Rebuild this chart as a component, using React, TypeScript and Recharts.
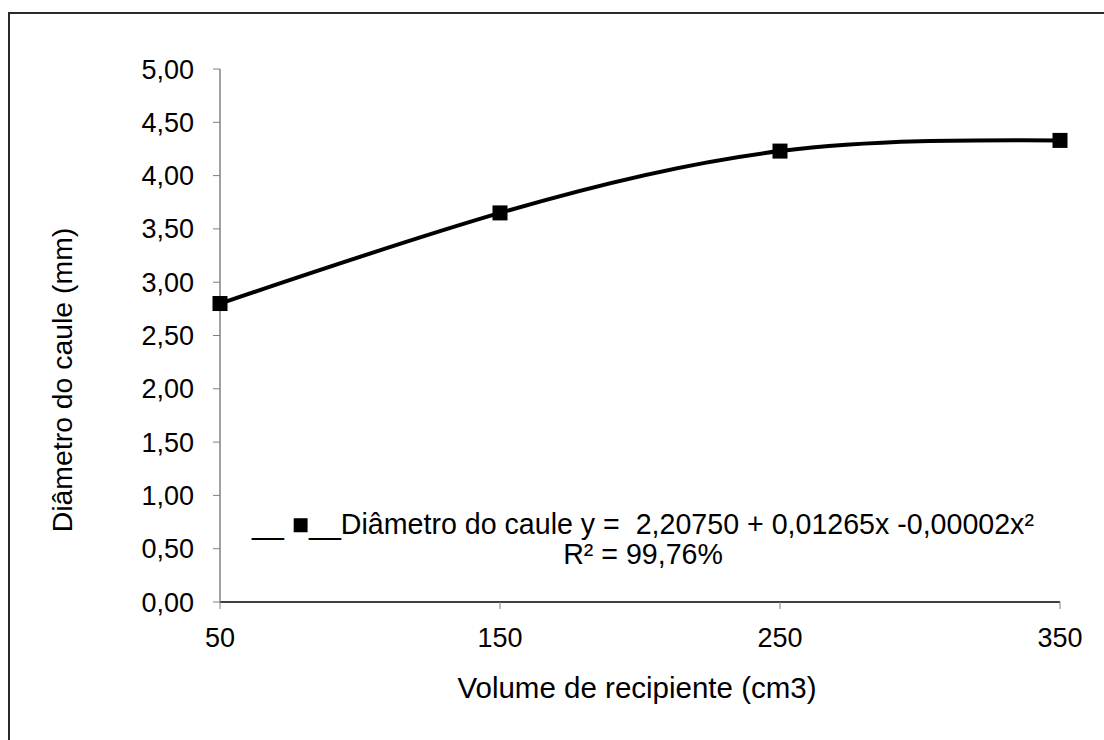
import { LineChart, Line, XAxis, YAxis } from 'recharts';

const volumes = [50, 150, 250, 350];
const diameters = [2.8, 3.65, 4.23, 4.33];
const xTicks = [50, 150, 250, 350];
const yTicks = [0, 0.5, 1, 1.5, 2, 2.5, 3, 3.5, 4, 4.5, 5];

const equation = '__ \u25A0__Diâmetro do caule y =  2,20750 + 0,01265x -0,00002x²';
const r2Text = 'R² = 99,76%';
const xTitle = 'Volume de recipiente (cm3)';
const yTitle = 'Diâmetro do caule (mm)';

const data = volumes.map((v, i) => ({ volume: v, diametro: diameters[i] }));

const font = '"Liberation Sans", Arial, sans-serif';
const tickStyle = { fill: '#000', fontSize: 27, fontFamily: font };

function SquareDot(props: any) {
  const { cx, cy, index } = props;
  return <rect key={`dot-${index}`} x={cx - 7.5} y={cy - 7.5} width={15} height={15} fill="#000" />;
}

export default function App() {
  return (
    <div
      style={{
        position: 'absolute',
        left: 0,
        top: 0,
        width: 1104,
        height: 740,
        background: '#fff',
        overflow: 'hidden',
        fontFamily: font,
        color: '#000',
      }}
    >
      <div
        style={{
          position: 'absolute',
          left: 8,
          top: 12,
          width: 1200,
          height: 800,
          border: '2px solid #2a2a2a',
        }}
      />
      <div style={{ position: 'absolute', left: 0, top: 0 }}>
        <LineChart width={1104} height={740} data={data} margin={{ top: 69, right: 44, bottom: 0, left: 0 }}>
          <XAxis
            dataKey="volume"
            type="number"
            domain={[50, 350]}
            ticks={xTicks}
            height={138}
            tickSize={7}
            tickMargin={19}
            tick={tickStyle}
            axisLine={{ stroke: '#000', strokeWidth: 1.5 }}
            tickLine={{ stroke: '#808080' }}
          />
          <YAxis
            type="number"
            domain={[0, 5]}
            ticks={yTicks}
            width={220}
            tickSize={7}
            tickMargin={19}
            tick={tickStyle}
            tickFormatter={(v: number) => v.toFixed(2).replace('.', ',')}
            axisLine={{ stroke: '#808080', strokeWidth: 1.5 }}
            tickLine={{ stroke: '#808080' }}
          />
          <Line
            type="natural"
            dataKey="diametro"
            stroke="#000"
            strokeWidth={4}
            dot={SquareDot}
            activeDot={false}
            isAnimationActive={false}
          />
        </LineChart>
      </div>
      <div
        style={{
          position: 'absolute',
          left: 143,
          width: 1000,
          top: 509,
          textAlign: 'center',
          fontSize: 28.6,
          lineHeight: '30px',
          whiteSpace: 'pre',
        }}
      >
        <div>{equation}</div>
        <div>{r2Text}</div>
      </div>
      <div
        style={{
          position: 'absolute',
          left: 337,
          width: 600,
          top: 672,
          textAlign: 'center',
          fontSize: 29.5,
          lineHeight: '32px',
        }}
      >
        {xTitle}
      </div>
      <div
        style={{
          position: 'absolute',
          left: 62 - 250,
          top: 380 - 16,
          width: 500,
          height: 32,
          lineHeight: '32px',
          textAlign: 'center',
          fontSize: 28.4,
          transform: 'rotate(-90deg)',
        }}
      >
        {yTitle}
      </div>
    </div>
  );
}
